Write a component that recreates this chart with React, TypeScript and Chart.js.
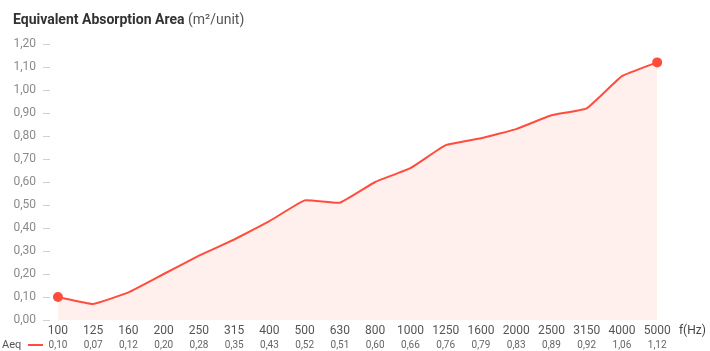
import React, { useEffect, useRef } from "react";
import { Chart, registerables } from "chart.js";

Chart.register(...registerables);

const frequencies = ["100", "125", "160", "200", "250", "315", "400", "500", "630", "800", "1000", "1250", "1600", "2000", "2500", "3150", "4000", "5000"];
const aeqValues = [0.10, 0.07, 0.12, 0.20, 0.28, 0.35, 0.43, 0.52, 0.51, 0.60, 0.66, 0.76, 0.79, 0.83, 0.89, 0.92, 1.06, 1.12];
const axisUnitLabel = "f(Hz)";
const seriesLabel = "Aeq";
const titleBold = "Equivalent Absorption Area";
const titleUnit = "(m²/unit)";

const RED = "#ff4d3d";
const FONT = "Roboto, 'Noto Sans', sans-serif";

const fmt = (v: number) => v.toFixed(2).replace(".", ",");

export default function App() {
  const ref = useRef<HTMLCanvasElement | null>(null);
  useEffect(() => {
    if (!ref.current) return;
    const data = aeqValues.map((y, i) => ({ x: i, y }));
    const last = aeqValues.length - 1;
    const legendPlugin = {
      id: "aeqLegend",
      afterDraw(chart: any) {
        const ctx = chart.ctx;
        const x2 = chart.scales.x2;
        const y = x2.top + 7;
        ctx.save();
        ctx.font = `11px ${FONT}`;
        ctx.fillStyle = "#555";
        ctx.textBaseline = "middle";
        ctx.textAlign = "left";
        ctx.fillText(seriesLabel, 2, y);
        ctx.strokeStyle = RED;
        ctx.lineWidth = 2;
        ctx.beginPath();
        ctx.moveTo(28, y);
        ctx.lineTo(43, y);
        ctx.stroke();
        ctx.restore();
      },
    };
    const chart = new Chart(ref.current, {
      type: "line",
      data: {
        datasets: [
          {
            label: seriesLabel,
            data,
            borderColor: RED,
            borderWidth: 2,
            backgroundColor: "rgba(255,90,70,0.09)",
            fill: "origin",
            tension: 0.1,
            pointRadius: (c: any) => (c.dataIndex === 0 || c.dataIndex === last ? 4 : 0),
            pointBackgroundColor: RED,
            pointBorderColor: RED,
            pointHoverRadius: 0,
          },
        ],
      },
      options: {
        responsive: false,
        animation: false,
        layout: { padding: { top: 44, right: 0, left: 0, bottom: 0 } },
        plugins: { legend: { display: false }, tooltip: { enabled: false } },
        scales: {
          x: {
            type: "linear",
            position: "bottom",
            min: -0.226,
            max: 18.3,
            grid: { display: false, drawTicks: false },
            border: { display: false },
            afterFit: (s: any) => { s.height = 18; },
            ticks: {
              stepSize: 1,
              includeBounds: false,
              autoSkip: false,
              maxRotation: 0,
              maxTicksLimit: 100,
              padding: 4,
              color: (c: any) => (c.tick && c.tick.value === frequencies.length ? "#444" : "#555"),
              font: { family: FONT, size: 12 },
              callback: (v: any) => {
                const i = Math.round(Number(v));
                if (Math.abs(Number(v) - i) > 1e-6) return "";
                if (i >= 0 && i < frequencies.length) return frequencies[i];
                if (i === frequencies.length) return axisUnitLabel;
                return "";
              },
            },
          },
          x2: {
            type: "linear",
            position: "bottom",
            min: -0.226,
            max: 18.3,
            grid: { display: false, drawTicks: false },
            border: { display: false },
            afterFit: (s: any) => { s.height = 13; },
            ticks: {
              stepSize: 1,
              includeBounds: false,
              autoSkip: false,
              maxRotation: 0,
              maxTicksLimit: 100,
              padding: 1,
              color: "#666",
              font: { family: FONT, size: 10 },
              callback: (v: any) => {
                const i = Math.round(Number(v));
                if (Math.abs(Number(v) - i) > 1e-6) return "";
                if (i >= 0 && i < aeqValues.length) return fmt(aeqValues[i]);
                return "";
              },
            },
          },
          y: {
            min: 0,
            max: 1.2,
            afterFit: (s: any) => { s.width = 50; },
            grid: { display: true, drawOnChartArea: false, drawTicks: true, tickLength: 7, tickColor: "#d0d0d0" },
            border: { display: false },
            ticks: {
              stepSize: 0.1,
              padding: 7,
              color: "#8a8a8a",
              font: { family: FONT, size: 12 },
              callback: (v: any) => fmt(Math.round(Number(v) * 100) / 100),
            },
          },
        },
      },
      plugins: [legendPlugin],
    } as any);
    return () => chart.destroy();
  }, []);
  return (
    <div style={{ position: "absolute", left: 0, top: 0, width: 710, height: 351, background: "#fff" }}>
      <canvas ref={ref} width={710} height={351} style={{ display: "block" }} />
      <div style={{ position: "absolute", left: 13, top: 11, fontFamily: FONT, fontSize: 14, whiteSpace: "nowrap" }}>
        <span style={{ fontWeight: 700, color: "#333" }}>{titleBold}</span>{" "}
        <span style={{ fontWeight: 400, color: "#555" }}>{titleUnit}</span>
      </div>
    </div>
  );
}
